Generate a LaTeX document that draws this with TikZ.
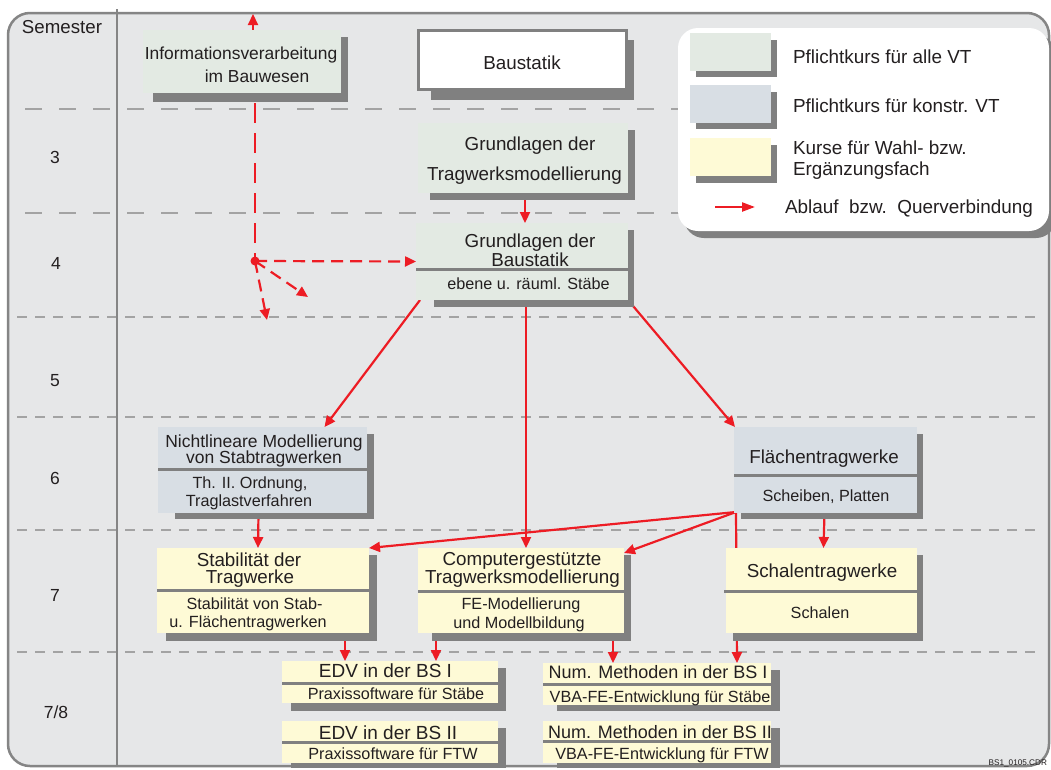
\documentclass[tikz,border=0pt]{standalone}
\usepackage{fontspec}
\setmainfont{Liberation Sans}
\usetikzlibrary{arrows.meta}
\definecolor{bgc}{HTML}{E6E7E8}
\definecolor{framec}{HTML}{858585}
\definecolor{shad}{HTML}{808080}
\definecolor{gridc}{HTML}{A3A3A3}
\definecolor{cgreen}{HTML}{E3EAE3}
\definecolor{cblue}{HTML}{D8DEE4}
\definecolor{cyellow}{HTML}{FEFAD6}
\definecolor{cred}{HTML}{ED1C24}
\definecolor{txt}{HTML}{231F20}
\begin{document}
\begin{tikzpicture}[x=1pt,y=-1pt,
  box/.style={rectangle,inner sep=0pt,outer sep=0pt,anchor=north west},
  tt/.style={text=txt,inner sep=0pt,outer sep=0pt,anchor=base},
  ttl/.style={tt,anchor=base west},
  ftitle/.style={font=\fontsize{18.8}{20}\selectfont},
  fsub/.style={font=\fontsize{16.2}{18}\selectfont},
  divl/.style={draw=shad,line width=3pt},
  arr/.style={draw=cred,line width=2.2pt,-{Triangle[length=11pt,width=10pt]}},
  darr/.style={arr,dash pattern=on 12pt off 7pt},
  gridup/.style={draw=gridc,line width=1.2pt,dash pattern=on 17pt off 17pt},
  gridlo/.style={draw=gridc,line width=1.2pt,dash pattern=on 10pt off 8pt}]
\useasboundingbox (0,0) rectangle (1051,769);
\fill[white] (0,0) rectangle (1051,769);
% frame
\draw[framec,fill=bgc,line width=2.5pt,rounded corners=22pt] (8,13) rectangle (1049,766);
% grid lines
\draw[gridup] (25,109) -- (1040,109);
\draw[gridup] (25,213) -- (1040,213);
\draw[gridlo] (17,317) -- (1040,317);
\draw[gridlo] (17,417) -- (1040,417);
\draw[gridlo] (17,530) -- (1040,530);
\draw[gridlo] (17,652) -- (1040,652);
\draw[framec,line width=2.5pt] (117,9) -- (117,766);
% row labels
\node[tt,font=\fontsize{18.7}{20}\selectfont] (sem) at (62,33) {Semester};
\node[tt,font=\fontsize{17.5}{20}\selectfont] (r3) at (55,163) {3};
\node[tt,font=\fontsize{17.5}{20}\selectfont] (r4) at (56,269) {4};
\node[tt,font=\fontsize{17.5}{20}\selectfont] (r5) at (55,386) {5};
\node[tt,font=\fontsize{17.5}{20}\selectfont] (r6) at (55,484) {6};
\node[tt,font=\fontsize{17.5}{20}\selectfont] (r7) at (55,601) {7};
\node[tt,font=\fontsize{17.5}{20}\selectfont] (r78) at (56,718) {7/8};

% ---- box nodes (positions) ----
\path
 node[box,minimum width=198pt,minimum height=63pt] (info) at (143,30) {}
 node[box,minimum width=210pt,minimum height=70pt] (gt) at (418,123) {}
 node[box,minimum width=212pt,minimum height=77pt] (gb) at (416,223) {}
 node[box,minimum width=209pt,minimum height=86pt] (nl) at (158,427) {}
 node[box,minimum width=212pt,minimum height=85pt] (st) at (157,548) {}
 node[box,minimum width=206pt,minimum height=85pt] (cg) at (418,548) {}
 node[box,minimum width=183pt,minimum height=86pt] (ft) at (734,427) {}
 node[box,minimum width=191pt,minimum height=85pt] (sc) at (726,548) {}
 node[box,minimum width=216pt,minimum height=42pt] (edva) at (282,661) {}
 node[box,minimum width=216pt,minimum height=42pt] (edvb) at (282,721) {}
 node[box,minimum width=228pt,minimum height=42pt] (numa) at (543,663) {}
 node[box,minimum width=228pt,minimum height=42pt] (numb) at (543,721) {};

% ---- connectors (drawn beneath boxes) ----
\coordinate (topc) at (253,14);
\coordinate (dot) at (255,261);
\coordinate (da) at (308,297);
\coordinate (db) at (267,320);
\draw[arr] ([xshift=11pt]info.north) -- (topc);
\draw[draw=cred,line width=2.2pt,dash pattern=on 20pt off 10pt,dash phase=20pt] ([xshift=13pt]info.south) -- (dot);
\fill[cred] (dot) circle (4.5pt);
\draw[darr] (dot) -- (gb.west);
\draw[darr] (dot) -- (da);
\draw[darr] (dot) -- (db);
\draw[arr] ([xshift=2pt]gt.south) -- ([xshift=3pt]gb.north);
\draw[arr] ([xshift=4pt]gb.south west) -- ([xshift=62pt]nl.north);
\draw[arr] ([xshift=4pt]gb.south) -- ([xshift=5pt]cg.north);
\draw[arr] (gb.south east) -- ([xshift=1pt]ft.north west);
\draw[arr] ([xshift=-4pt]nl.south) -- ([xshift=-5pt]st.north);
\draw[arr] ([xshift=2pt,yshift=1pt]ft.south west) -- (st.north east);
\draw[arr] ([xshift=2pt,yshift=1pt]ft.south west) -- ([yshift=-5pt]cg.north east);
\draw[arr] ([xshift=-1pt]ft.south) -- ([xshift=2pt]sc.north);
\draw[arr] ([xshift=2pt,yshift=1pt]ft.south west) -- ([xshift=80pt]numa.north);
\draw[arr] ([xshift=82pt]st.south) -- ([xshift=-45pt]edva.north);
\draw[arr] ([xshift=-85pt]cg.south) -- ([xshift=46pt]edva.north);
\draw[arr] ([xshift=92pt]cg.south) -- ([xshift=-44pt]numa.north);

% ---- shadows ----
\fill[shad] (153,37) rectangle (348,102);
\fill[shad] (431,40) rectangle (634,100);
\fill[shad] (430,130) rectangle (635,200);
\fill[shad] (434,230) rectangle (634,307);
\fill[shad] (175,434) rectangle (374,519);
\fill[shad] (166,555) rectangle (377,641);
\fill[shad] (432,555) rectangle (631,641);
\fill[shad] (741,434) rectangle (923,519);
\fill[shad] (733,555) rectangle (923,641);
\fill[shad] (291,668) rectangle (506,711);
\fill[shad] (291,728) rectangle (506,768);
\fill[shad] (557,670) rectangle (780,711);
\fill[shad] (557,728) rectangle (780,768);

% ---- box fills ----
\fill[cgreen] (info.north west) rectangle (info.south east);
\node[box,fill=white,draw=shad,line width=3pt,minimum width=208pt,minimum height=59pt] (bst) at (418.5,30.5) {};
\fill[cgreen] (gt.north west) rectangle (gt.south east);
\fill[cgreen] (gb.north west) rectangle (gb.south east);
\fill[cblue] (nl.north west) rectangle (nl.south east);
\fill[cyellow] (st.north west) rectangle (st.south east);
\fill[cyellow] (cg.north west) rectangle (cg.south east);
\fill[cblue] (ft.north west) rectangle (ft.south east);
\fill[cyellow] (sc.north west) rectangle (sc.south east);
\fill[cyellow] (edva.north west) rectangle (edva.south east);
\fill[cyellow] (edvb.north west) rectangle (edvb.south east);
\fill[cyellow] (numa.north west) rectangle (numa.south east);
\fill[cyellow] (numb.north west) rectangle (numb.south east);
% dividers
\draw[divl] (416,269) -- (628,269);
\draw[divl] (158,469) -- (367,469);
\draw[divl] (157,590) -- (369,590);
\draw[divl] (418,591) -- (624,591);
\draw[divl] (734,475) -- (917,475);
\draw[divl] (724,591) -- (917,591);
\draw[divl] (282,683) -- (498,683);
\draw[divl] (282,742) -- (498,742);
\draw[divl] (543,684) -- (771,684);
\draw[divl] (543,741) -- (771,741);

% ---- texts ----
\node[tt,font=\fontsize{17.4}{20}\selectfont] (info-a) at (241,59) {Informationsverarbeitung};
\node[tt,font=\fontsize{17.4}{20}\selectfont] (info-b) at (257,82) {im Bauwesen};
\node[tt,ftitle] (bst-a) at (522,69) {Baustatik};
\node[tt,ftitle] (gt-a) at (530,150) {Grundlagen der};
\node[tt,ftitle] (gt-b) at (524.5,180) {Tragwerksmodellierung};
\node[tt,ftitle] (gb-a) at (530,247) {Grundlagen der};
\node[tt,ftitle] (gb-b) at (530,266) {Baustatik};
\node[tt,fsub] (gb-c) at (528.5,289) {ebene u. räuml. Stäbe};
\node[tt,font=\fontsize{17.5}{20}\selectfont] (nl-a) at (264,447) {Nichtlineare Modellierung};
\node[tt,font=\fontsize{17.5}{20}\selectfont] (nl-b) at (264,463) {von Stabtragwerken};
\node[tt,fsub] (nl-c) at (250,488) {Th. II. Ordnung,};
\node[tt,fsub] (nl-d) at (249,506) {Traglastverfahren};
\node[tt,ftitle] (st-a) at (249,566) {Stabilität der};
\node[tt,ftitle] (st-b) at (250,583) {Tragwerke};
\node[tt,fsub] (st-c) at (254.5,609) {Stabilität von Stab-};
\node[tt,fsub] (st-d) at (248,627) {u. Flächentragwerken};
\node[tt,ftitle] (cg-a) at (522,565) {Computergestützte};
\node[tt,ftitle] (cg-b) at (522.5,583) {Tragwerksmodellierung};
\node[tt,fsub] (cg-c) at (521,609) {FE-Modellierung};
\node[tt,fsub] (cg-d) at (519,628) {und Modellbildung};
\node[tt,ftitle] (ft-a) at (824,463) {Flächentragwerke};
\node[tt,fsub] (ft-b) at (826,501) {Scheiben, Platten};
\node[tt,ftitle] (sc-a) at (822,577) {Schalentragwerke};
\node[tt,fsub] (sc-b) at (820,618) {Schalen};
\node[tt,font=\fontsize{19}{20}\selectfont] (edva-a) at (385.5,677) {EDV in der BS I};
\node[tt,fsub] (edva-b) at (396,699) {Praxissoftware für Stäbe};
\node[tt,font=\fontsize{19}{20}\selectfont] (edvb-a) at (388,739) {EDV in der BS II};
\node[tt,fsub] (edvb-b) at (393,759) {Praxissoftware für FTW};
\node[tt,font=\fontsize{18}{20}\selectfont] (numa-a) at (658,678) {Num. Methoden in der BS I};
\node[tt,fsub] (numa-b) at (660,702) {VBA-FE-Entwicklung für Stäbe};
\node[tt,font=\fontsize{18}{20}\selectfont] (numb-a) at (660,738) {Num. Methoden in der BS II};
\node[tt,fsub] (numb-b) at (662,759) {VBA-FE-Entwicklung für FTW};

% ---- legend ----
\fill[shad,rounded corners=20pt] (684,35) rectangle (1056,238);
\node[box,fill=white,rounded corners=20pt,minimum width=371pt,minimum height=203pt] (legend) at (678,28) {};
\fill[shad] (696,40) rectangle (777,77);
\node[box,fill=cgreen,minimum width=81pt,minimum height=38pt] (lg) at (690,33) {};
\fill[shad] (696,92) rectangle (777,129);
\node[box,fill=cblue,minimum width=81pt,minimum height=38pt] (lb) at (690,85) {};
\fill[shad] (696,145) rectangle (777,183);
\node[box,fill=cyellow,minimum width=81pt,minimum height=38pt] (ly) at (690,138) {};
\node[ttl,font=\fontsize{18.9}{20}\selectfont] (lg-t) at (793,63) {Pflichtkurs für alle VT};
\node[ttl,font=\fontsize{18.9}{20}\selectfont] (lb-t) at (793,112) {Pflichtkurs für konstr. VT};
\node[ttl,font=\fontsize{18.9}{20}\selectfont] (ly-t) at (793,154) {Kurse für Wahl- bzw.};
\node[ttl,font=\fontsize{18.9}{20}\selectfont] (ly-u) at (793,175) {Ergänzungsfach};
\coordinate (la) at (715,207);
\coordinate (lz) at (755,207);
\draw[draw=cred,line width=2.2pt,-{Triangle[length=13pt,width=9pt]}] (la) -- (lz);
\node[ttl,font=\fontsize{18.9}{20}\selectfont] (la-t) at (785,213) {Ablauf\ \ bzw.\ \ Querverbindung};
% file tag
\node[tt,anchor=base east,font=\fontsize{8.2}{9}\selectfont] (cdr) at (1047,765) {BS1\_0105.CDR};
\end{tikzpicture}
\end{document}
